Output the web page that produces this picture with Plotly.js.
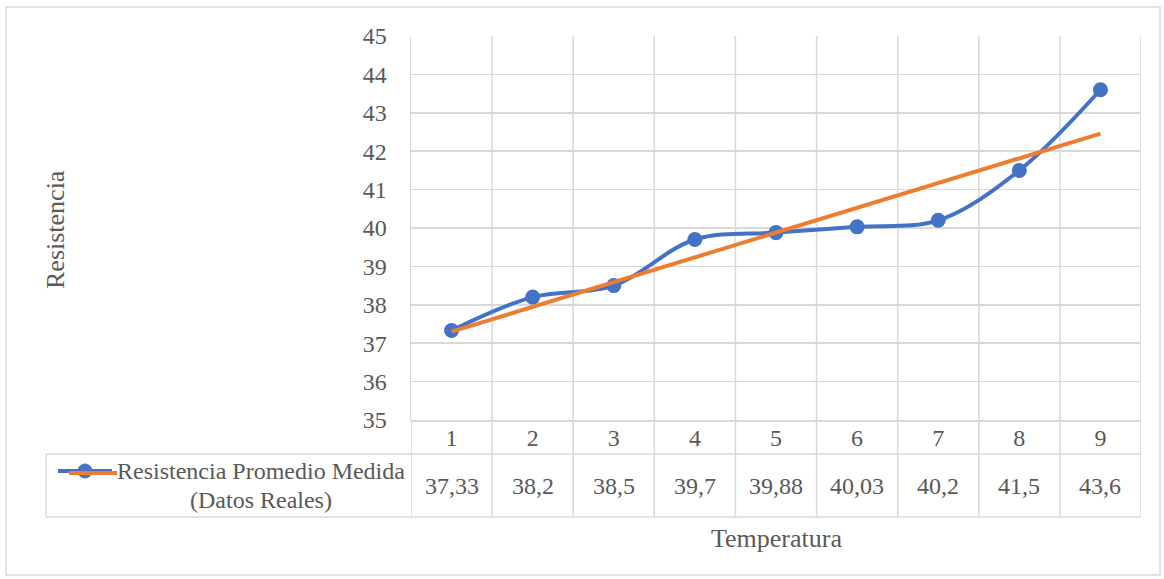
<!DOCTYPE html>
<html>
<head>
<meta charset="utf-8">
<script src="https://cdn.plot.ly/plotly-3.0.1.min.js"></script>
<style>
html,body{margin:0;padding:0;background:#fff;}
#chart{width:1164px;height:579px;}
</style>
</head>
<body>
<div id="chart"></div>
<script>
// ---- data ----
const categories = [1, 2, 3, 4, 5, 6, 7, 8, 9];
const resistencia = [37.33, 38.2, 38.5, 39.7, 39.88, 40.03, 40.2, 41.5, 43.6];
const trendX = [1, 9];
const trendY = [37.30, 42.46];
const seriesName = "Resistencia Promedio Medida";
const seriesName2 = "(Datos Reales)";
const yTicks = [35, 36, 37, 38, 39, 40, 41, 42, 43, 44, 45];
const xTitle = "Temperatura";
const yTitle = "Resistencia";

// ---- layout geometry (pixels) ----
const W = 1164, H = 579;
const L = 411, R = 1141, T = 36, B = 420;
const rowMid = 454, tableBottom = 517, legendLeft = 46;
const px = x => (x - L) / (R - L);
const py = y => (B - y) / (B - T);

const grey = '#595959';
const gridC = '#d9d9d9';
const fontFam = 'Liberation Serif, Times New Roman, serif';
const fs = 24, fsTitle = 26;

const traces = [
  {
    x: categories, y: resistencia, type: 'scatter', mode: 'lines+markers',
    line: {color: '#4472C4', width: 4, shape: 'spline', smoothing: 1},
    marker: {color: '#4472C4', size: 15},
    hoverinfo: 'x+y', showlegend: false
  },
  {
    x: trendX, y: trendY, type: 'scatter', mode: 'lines',
    line: {color: '#ED7D31', width: 4},
    hoverinfo: 'skip', showlegend: false
  }
];

const shapes = [];
const lineStyle = {color: gridC, width: 1.5};
// outer chart border
shapes.push({type: 'rect', xref: 'paper', yref: 'paper',
  x0: px(6), x1: px(1160), y0: py(7), y1: py(575), line: {color: gridC, width: 1.5}});
// table horizontal lines
shapes.push({type: 'line', xref: 'paper', yref: 'paper', x0: px(legendLeft), x1: px(R), y0: py(rowMid), y1: py(rowMid), line: lineStyle});
shapes.push({type: 'line', xref: 'paper', yref: 'paper', x0: px(legendLeft), x1: px(R), y0: py(tableBottom), y1: py(tableBottom), line: lineStyle});
// legend cell left border
shapes.push({type: 'line', xref: 'paper', yref: 'paper', x0: px(legendLeft), x1: px(legendLeft), y0: py(rowMid), y1: py(tableBottom), line: lineStyle});
// column separators in table
for (let i = 0; i <= categories.length; i++) {
  const xv = categories[0] - 0.5 + i;
  shapes.push({type: 'line', xref: 'x', yref: 'paper', x0: xv, x1: xv, y0: py(B), y1: py(tableBottom), line: lineStyle});
}
// vertical gridlines between categories
for (let i = 1; i <= categories.length; i++) {
  const xv = categories[0] - 0.5 + i;
  shapes.push({type: 'line', xref: 'x', yref: 'paper', x0: xv, x1: xv, y0: 0, y1: 1, line: lineStyle, layer: 'below'});
}
// legend key in the table
shapes.push({type: 'line', xref: 'paper', yref: 'paper', x0: px(58), x1: px(112), y0: py(471), y1: py(471), line: {color: '#4472C4', width: 4}});
shapes.push({type: 'circle', xref: 'paper', yref: 'paper', x0: px(78), x1: px(92), y0: py(464), y1: py(478), fillcolor: '#4472C4', line: {color: '#4472C4', width: 1}});
shapes.push({type: 'line', xref: 'paper', yref: 'paper', x0: px(69), x1: px(117), y0: py(473), y1: py(473), line: {color: '#ED7D31', width: 4}});

const annotations = [];
const fmt = v => String(v).replace('.', ',');
categories.forEach((c, i) => {
  annotations.push({x: c, xref: 'x', y: py(486), yref: 'paper',
    text: fmt(resistencia[i]), showarrow: false, xanchor: 'center', yanchor: 'middle',
    font: {family: fontFam, size: fs, color: grey}});
});
annotations.push({x: px(261), xref: 'paper', y: py(471), yref: 'paper', text: seriesName,
  showarrow: false, xanchor: 'center', yanchor: 'middle', font: {family: fontFam, size: fs, color: grey}});
annotations.push({x: px(261), xref: 'paper', y: py(500), yref: 'paper', text: seriesName2,
  showarrow: false, xanchor: 'center', yanchor: 'middle', font: {family: fontFam, size: fs, color: grey}});
annotations.push({x: 0.5, xref: 'paper', y: py(538), yref: 'paper', text: xTitle,
  showarrow: false, xanchor: 'center', yanchor: 'middle', font: {family: fontFam, size: fsTitle, color: grey}});
annotations.push({x: px(56), xref: 'paper', y: py(230), yref: 'paper', text: yTitle, textangle: -90,
  showarrow: false, xanchor: 'center', yanchor: 'middle', font: {family: fontFam, size: fsTitle, color: grey}});

const layout = {
  width: W, height: H,
  margin: {l: L, r: W - R, t: T, b: H - B, pad: 0},
  paper_bgcolor: '#ffffff', plot_bgcolor: '#ffffff',
  font: {family: fontFam, color: grey, size: fs},
  showlegend: false,
  xaxis: {
    type: 'linear', range: [0.5, 9.5], tickvals: categories, ticktext: categories.map(String),
    showgrid: false, zeroline: false, showline: true, linecolor: gridC, linewidth: 1.5,
    ticks: '', ticklabelstandoff: -4, tickfont: {family: fontFam, size: fs, color: grey}, fixedrange: true
  },
  yaxis: {
    range: [35, 45], tickvals: yTicks, showgrid: true, gridcolor: gridC, gridwidth: 1.5,
    zeroline: false, showline: true, linecolor: gridC, linewidth: 1.5,
    ticks: '', ticklabelstandoff: 18, tickfont: {family: fontFam, size: fs, color: grey},
    fixedrange: true
  },
  shapes: shapes,
  annotations: annotations
};

Plotly.newPlot('chart', traces, layout, {displayModeBar: false, staticPlot: true});
</script>
</body>
</html>
